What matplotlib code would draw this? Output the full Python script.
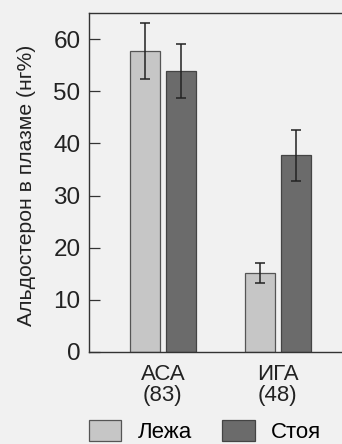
import numpy as np
import matplotlib.pyplot as plt
from matplotlib.patches import Patch

groups = ['АСА\n(83)', 'ИГА\n(48)']
lying = [57.7, 15.1]
lying_err = [5.4, 2.0]
standing = [53.9, 37.7]
standing_err = [5.2, 4.9]
series_names = ['Лежа', 'Стоя']

light = '#c6c6c6'
dark = '#6b6b6b'
bg = '#f1f1f1'

plt.rcParams['font.family'] = ['Liberation Sans', 'DejaVu Sans']

fig = plt.figure(figsize=(3.42, 4.44), dpi=100, facecolor=bg)
ax = fig.add_axes([0.260, 0.208, 0.74, 0.763])
ax.set_facecolor(bg)

x = np.arange(len(groups))
w = 0.26
off = 0.157
ax.bar(x - off, lying, w, color=light, edgecolor='#555555', linewidth=0.9)
ax.bar(x + off, standing, w, color=dark, edgecolor='#444444', linewidth=0.9)
ax.errorbar(x - off, lying, yerr=lying_err, fmt='none', ecolor='#222222',
            elinewidth=1.1, capsize=3.8, capthick=1.1)
ax.errorbar(x + off, standing, yerr=standing_err, fmt='none', ecolor='#222222',
            elinewidth=1.1, capsize=3.8, capthick=1.1)

ax.set_xlim(-0.643, 1.557)
ax.set_ylim(0, 65.1)
ax.set_yticks(np.arange(0, 61, 10))
ax.tick_params(axis='y', direction='in', length=8, width=0.9, labelsize=17.5,
               pad=6, colors='#333333', labelcolor='#222222')
ax.set_xticks(x)
ax.set_xticklabels(groups, fontsize=16, color='#222222', linespacing=1.0)
ax.tick_params(axis='x', length=0, pad=9)
ax.spines['right'].set_visible(False)
for s in ['left', 'top', 'bottom']:
    ax.spines[s].set_color('#333333')
    ax.spines[s].set_linewidth(1.0)
ax.set_ylabel('Альдостерон в плазме (нг%)', fontsize=15.2, color='#222222')
ax.yaxis.set_label_coords(-0.21, 0.49)

handles = [Patch(facecolor=light, edgecolor='#555555', linewidth=0.9),
           Patch(facecolor=dark, edgecolor='#444444', linewidth=0.9)]
fig.legend(handles, series_names, loc='upper left', bbox_to_anchor=(0.235, 0.074),
           ncol=2, frameon=False, fontsize=16, handlelength=1.45, handleheight=1.1,
           handletextpad=0.75, columnspacing=1.35, borderaxespad=0)

fig.savefig('out.png', dpi=100, facecolor=bg)
